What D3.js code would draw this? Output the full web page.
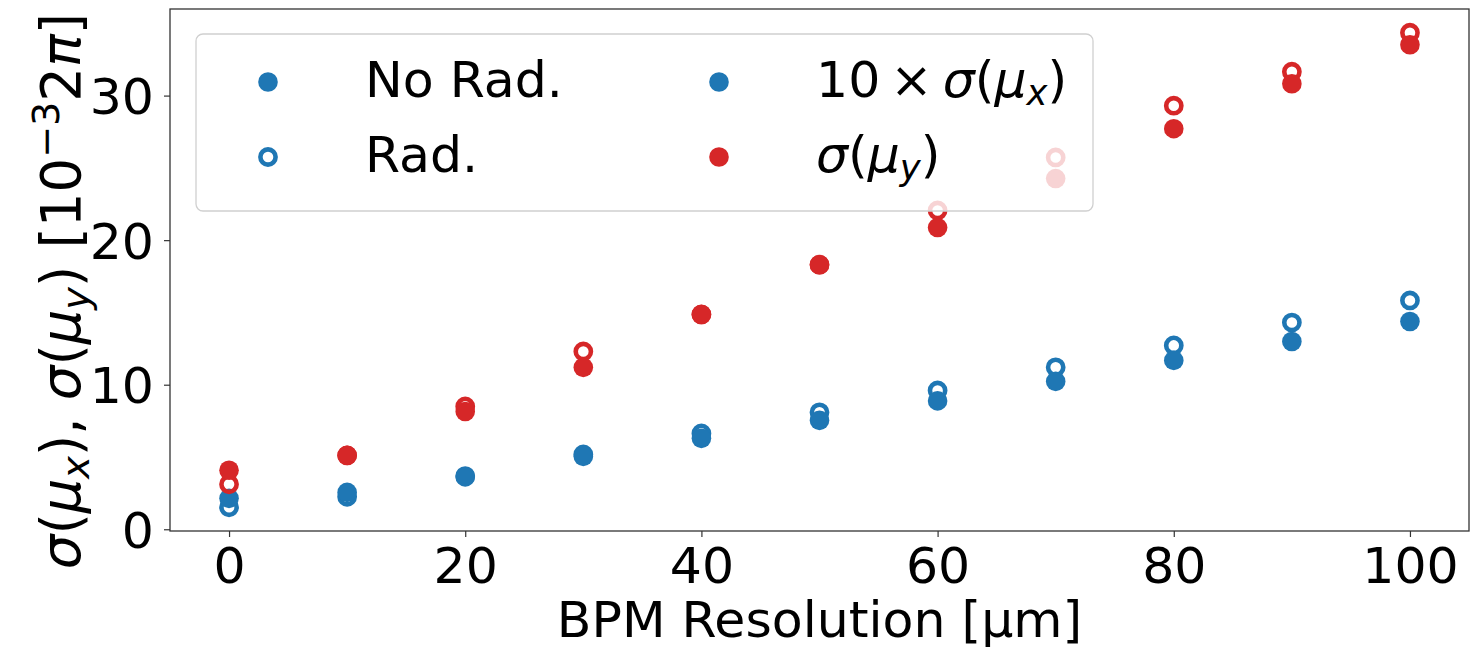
<!DOCTYPE html>
<html>
<head>
<meta charset="utf-8">
<script src="https://cdn.jsdelivr.net/npm/d3@7"></script>
<style>
  html, body { margin: 0; padding: 0; background: #fff; }
  svg { display: block; font-family: "DejaVu Sans", sans-serif; }
</style>
</head>
<body>
<svg id="chart" width="1473" height="648"></svg>
<script>
// ---- data ----
const resolution = [0, 10, 20, 30, 40, 50, 60, 70, 80, 90, 100];
const xNoRad = [2.14, 2.55, 3.62, 5.04, 6.29, 7.53, 8.88, 10.23, 11.68, 12.99, 14.37];
const xRad   = [1.52, 2.25, 3.68, 5.18, 6.63, 8.09, 9.60, 11.20, 12.72, 14.30, 15.83];
const yNoRad = [4.08, 5.11, 8.15, 11.20, 14.86, 18.30, 20.87, 24.26, 27.71, 30.82, 33.52];
const yRad   = [3.11, 5.11, 8.50, 12.30, 14.86, 18.30, 22.05, 25.72, 29.30, 31.65, 34.35];
const xTicks = [0, 20, 40, 60, 80, 100];
const yTicks = [0, 10, 20, 30];

const C0 = "#1f77b4", C3 = "#d62728";
const FS = 50.5;

const svg = d3.select("#chart");
const m = { left: 170, right: 1469, top: 9, bottom: 531 };
const x = d3.scaleLinear().domain([-5, 105]).range([m.left, m.right]);
const y = d3.scaleLinear().domain([-0.12, 35.99]).range([m.bottom, m.top]);

// axes
const xAxis = svg.append("g").attr("transform", `translate(0,${m.bottom})`)
  .call(d3.axisBottom(x).tickValues(xTicks).tickSize(6).tickPadding(10).tickSizeOuter(0));
const yAxis = svg.append("g").attr("transform", `translate(${m.left},0)`)
  .call(d3.axisLeft(y).tickValues(yTicks).tickSize(6).tickPadding(10).tickSizeOuter(0));
[xAxis, yAxis].forEach(g => {
  g.select(".domain").remove();
  g.selectAll(".tick line").attr("stroke", "#333").attr("stroke-width", 1.2);
  g.selectAll(".tick text").attr("fill", "#000").style("font-size", FS + "px")
    .style("font-family", "DejaVu Sans");
});
yAxis.selectAll(".tick text").attr("dy", "0.36em");

// data points
const pts = svg.append("g");
function openPts(vals, col) {
  pts.selectAll(null).data(vals).enter().append("circle")
    .attr("cx", (d, i) => x(resolution[i])).attr("cy", d => y(d))
    .attr("r", 7.6).attr("fill", "none").attr("stroke", col).attr("stroke-width", 4.6);
}
function filledPts(vals, col) {
  pts.selectAll(null).data(vals).enter().append("circle")
    .attr("cx", (d, i) => x(resolution[i])).attr("cy", d => y(d))
    .attr("r", 9.8).attr("fill", col);
}
openPts(xRad, C0);
filledPts(xNoRad, C0);
openPts(yRad, C3);
filledPts(yNoRad, C3);

// frame
svg.append("rect").attr("x", m.left).attr("y", m.top)
  .attr("width", m.right - m.left).attr("height", m.bottom - m.top)
  .attr("fill", "none").attr("stroke", "#333").attr("stroke-width", 1.3);

// legend
const lg = svg.append("g");
lg.append("rect").attr("x", 196).attr("y", 34).attr("width", 897).attr("height", 177)
  .attr("rx", 7).attr("fill", "#fff").attr("fill-opacity", 0.8)
  .attr("stroke", "#d0d0d0").attr("stroke-width", 1.3);

// col 1
lg.append("circle").attr("cx", 268).attr("cy", 82).attr("r", 9.8).attr("fill", C0);
lg.append("circle").attr("cx", 268).attr("cy", 157).attr("r", 7.6).attr("fill", "none")
  .attr("stroke", C0).attr("stroke-width", 4.6);
lg.append("text").attr("x", 365).attr("y", 97).style("font-size", FS + "px").text("No Rad.");
lg.append("text").attr("x", 365).attr("y", 172).style("font-size", FS + "px").text("Rad.");
// col 2
lg.append("circle").attr("cx", 719).attr("cy", 82).attr("r", 9.8).attr("fill", C0);
lg.append("circle").attr("cx", 719).attr("cy", 157).attr("r", 9.8).attr("fill", C3);

function mathLabel(textSel, parts, fs) {
  parts.forEach(p => {
    const ts = textSel.append("tspan").text(p.t);
    if (p.i) ts.attr("font-style", "italic");
    if (p.s) ts.style("font-size", (fs * 0.7) + "px");
    if (p.dy) ts.attr("dy", p.dy);
  });
}
const t1 = lg.append("text").attr("x", 816).attr("y", 97).style("font-size", FS + "px");
mathLabel(t1, [
  { t: "10" }, { t: "\u2009×\u2009" }, { t: "σ", i: 1 }, { t: "(" }, { t: "μ", i: 1 },
  { t: "x", i: 1, s: 1, dy: 8 }, { t: ")", dy: -8 }
], FS);
const t2 = lg.append("text").attr("x", 816).attr("y", 172).style("font-size", FS + "px");
mathLabel(t2, [
  { t: "σ", i: 1 }, { t: "(" }, { t: "μ", i: 1 },
  { t: "y", i: 1, s: 1, dy: 8 }, { t: ")", dy: -8 }
], FS);

// axis labels
svg.append("text").attr("x", (m.left + m.right) / 2).attr("y", 637)
  .attr("text-anchor", "middle").style("font-size", FS + "px").text("BPM Resolution [µm]");

const YFS = 54.5;
const yl = svg.append("text").attr("transform", `translate(80,291) rotate(-90)`)
  .attr("text-anchor", "middle").style("font-size", YFS + "px");
mathLabel(yl, [
  { t: "σ", i: 1 }, { t: "(" }, { t: "μ", i: 1 }, { t: "x", i: 1, s: 1, dy: 9 },
  { t: "), ", dy: -9 }, { t: "σ", i: 1 }, { t: "(" }, { t: "μ", i: 1 },
  { t: "y", i: 1, s: 1, dy: 9 }, { t: ") [10", dy: -9 }, { t: "−3", s: 1, dy: -21 },
  { t: "2", dy: 21 }, { t: "π", i: 1 }, { t: "]" }
], YFS);
</script>
</body>
</html>
